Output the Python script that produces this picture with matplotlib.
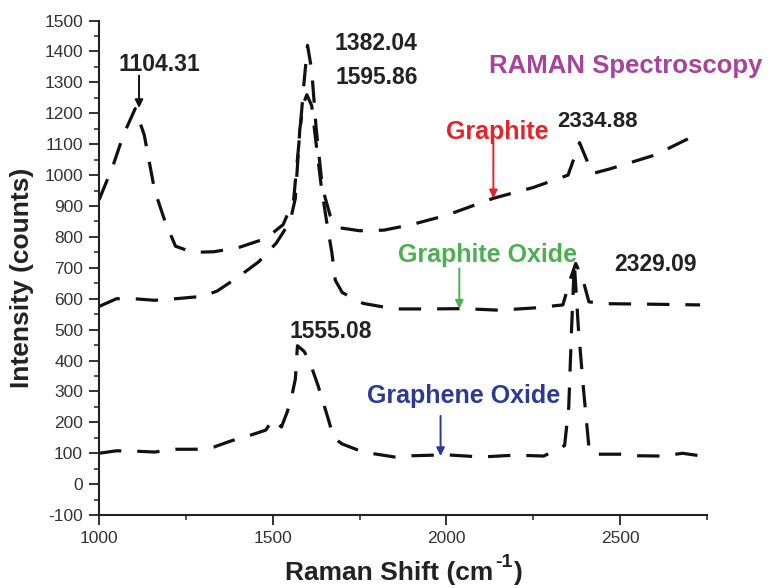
import matplotlib
matplotlib.use("Agg")
import matplotlib.pyplot as plt
from matplotlib.ticker import MultipleLocator

plt.rcParams['font.family'] = ['Liberation Sans', 'DejaVu Sans']
plt.rcParams['axes.unicode_minus'] = False

# ---- data ----
graphite_x = [1000, 1040, 1070, 1104, 1130, 1160, 1190, 1220, 1270, 1330, 1400, 1480,
              1530, 1560, 1575, 1590, 1600, 1612, 1625, 1640, 1650, 1665, 1690, 1750,
              1820, 1900, 2000, 2135, 2250, 2350, 2383, 2420, 2470, 2600, 2700]
graphite_y = [920, 1030, 1130, 1215, 1130, 950, 850, 770, 750, 752, 765, 795,
              840, 920, 1100, 1300, 1420, 1340, 1150, 990, 930, 870, 830, 820,
              822, 840, 870, 925, 960, 1000, 1105, 1005, 1020, 1065, 1120]

gox_x = [1000, 1050, 1100, 1160, 1220, 1300, 1340, 1400, 1460, 1510, 1550, 1565,
         1578, 1588, 1598, 1612, 1625, 1640, 1655, 1670, 1680, 1700, 1760, 1850,
         1950, 2050, 2150, 2250, 2335, 2357, 2372, 2392, 2410, 2450, 2550, 2730]
gox_y = [575, 600, 600, 595, 600, 608, 625, 670, 720, 780, 850, 925,
         1150, 1230, 1260, 1225, 1100, 960, 850, 750, 660, 620, 585, 567,
         567, 568, 563, 570, 580, 665, 714, 665, 590, 584, 583, 580]

geo_x = [1000, 1050, 1100, 1160, 1220, 1280, 1330, 1380, 1440, 1480, 1500, 1525,
         1542, 1556, 1565, 1571, 1590, 1605, 1630, 1660, 1675, 1700, 1760, 1850,
         1900, 2000, 2100, 2200, 2280, 2340, 2352, 2360, 2368, 2380, 2395, 2410,
         2420, 2500, 2550, 2620, 2680, 2735]
geo_y = [100, 108, 107, 104, 113, 113, 120, 140, 160, 175, 210, 185,
         235, 292, 340, 448, 430, 400, 320, 210, 150, 130, 104, 88,
         92, 95, 88, 94, 91, 125, 250, 500, 714, 500, 300, 120,
         97, 97, 92, 91, 100, 91]

x_ticks = [1000, 1500, 2000, 2500]
y_ticks = list(range(-100, 1501, 100))

fig = plt.figure(figsize=(7.68, 5.88), dpi=100)
ax = fig.add_axes([0.129, 0.124, 0.7916, 0.841])

ls = (0, (7, 5))
for xs, ys in [(graphite_x, graphite_y), (gox_x, gox_y), (geo_x, geo_y)]:
    ax.plot(xs, ys, color='#111111', lw=2.3, linestyle=ls, dash_capstyle='butt')

ax.set_xlim(1000, 2750)
ax.set_ylim(-100, 1500)
ax.set_xticks(x_ticks)
ax.set_yticks(y_ticks)
ax.xaxis.set_minor_locator(MultipleLocator(250))
ax.yaxis.set_minor_locator(MultipleLocator(50))
for s in ['top', 'right']:
    ax.spines[s].set_visible(False)
for s in ['left', 'bottom']:
    ax.spines[s].set_linewidth(1.5)
    ax.spines[s].set_color('#222222')
ax.tick_params(which='major', length=7.5, width=1.3, color='#222222',
               labelsize=12.5, labelcolor='#333333', pad=4)
ax.tick_params(which='minor', length=3.5, width=1.1, color='#222222')

fig.text(0.028, 0.527, 'Intensity (counts)', rotation=90, ha='center', va='center',
         fontsize=19, fontweight='bold', color='#222222')

# x label with superscript built from plain text pieces
renderer = fig.canvas.get_renderer()
lab_kw = dict(fontweight='bold', color='#222222', va='baseline')
t1 = fig.text(285 / 768, 1 - 580 / 588, 'Raman Shift (cm', fontsize=19, ha='left', **lab_kw)
bb1 = t1.get_window_extent(renderer)
t2 = fig.text((bb1.x1 + 2) / 768, 1 - 567 / 588, '-1', fontsize=14, ha='left', **lab_kw)
bb2 = t2.get_window_extent(renderer)
fig.text((bb2.x1 + 1) / 768, 1 - 580 / 588, ')', fontsize=19, ha='left', **lab_kw)

bold = dict(fontweight='bold', ha='center', va='center', clip_on=False)
ax.text(1173, 1357, '1104.31', fontsize=16.5, color='#222222', **bold)
ax.text(1798, 1425, '1382.04', fontsize=16.5, color='#222222', **bold)
ax.text(1798, 1315, '1595.86', fontsize=16.5, color='#222222', **bold)
ax.text(2516, 1354, 'RAMAN Spectroscopy', fontsize=18.5, color='#a8439b', **bold)
ax.text(2147, 1140, 'Graphite', fontsize=18, color='#e3242b', **bold)
ax.text(2435, 1175, '2334.88', fontsize=16, color='#222222', **bold)
ax.text(2118, 740, 'Graphite Oxide', fontsize=18, color='#4cb050', **bold)
ax.text(2602, 711, '2329.09', fontsize=16.5, color='#222222', **bold)
ax.text(1666, 493, '1555.08', fontsize=16.5, color='#222222', **bold)
ax.text(2049, 285, 'Graphene Oxide', fontsize=18, color='#2b3a94', **bold)

def arrow(x, y0, y1, c):
    ax.annotate('', xy=(x, y1), xytext=(x, y0),
                arrowprops=dict(arrowstyle='-|>', color=c, lw=1.4,
                                mutation_scale=12, shrinkA=0, shrinkB=0))

arrow(1115, 1322, 1217, '#111111')
arrow(2135, 1110, 925, '#e3242b')
arrow(2037, 698, 568, '#4cb050')
arrow(1983, 221, 91, '#2b3a94')

fig.savefig('out.png', dpi=100)
